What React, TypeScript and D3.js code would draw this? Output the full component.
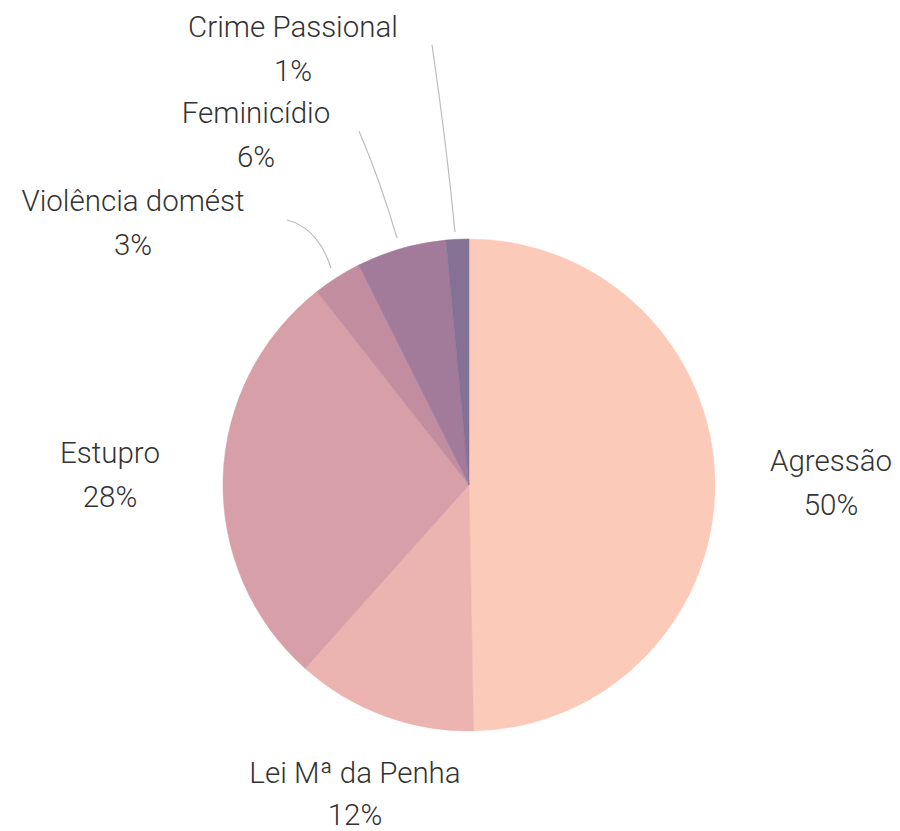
import React from "react";
import * as d3 from "d3";

const categories = ["Agressão", "Lei Mª da Penha", "Estupro", "Violência domést", "Feminicídio", "Crime Passional"];
const values = [49.7, 11.9, 27.8, 3.2, 5.9, 1.5];
const percentLabels = ["50%", "12%", "28%", "3%", "6%", "1%"];
const colors = ["#FCCAB8", "#EBB4B1", "#D79FA8", "#C18D9F", "#A37B9A", "#857193"];

const W = 900;
const H = 831;
const cx = 469;
const cy = 485;
const R = 246;

// label layout (annotation positions: text block center x, first baseline y)
const labelLayout: { x: number; y: number; line?: [number, number, number, number, number, number] }[] = [
  { x: 831, y: 471 },
  { x: 355, y: 783 },
  { x: 110, y: 463 },
  { x: 133, y: 211, line: [287, 220, 318, 228, 331, 268] },
  { x: 256, y: 123, line: [359, 131, 380, 180, 397, 238] },
  { x: 293, y: 37, line: [432, 45, 446, 140, 455, 232] },
];

export default function App() {
  const data = categories.map((c, i) => ({ c, v: values[i], p: percentLabels[i], color: colors[i] }));
  const pie = d3.pie<any>().sort(null).value((d) => d.v).startAngle(0).endAngle(2 * Math.PI);
  const arcs = pie(data);
  const arc = d3.arc<any>().innerRadius(0).outerRadius(R);
  const font = "Roboto, 'Open Sans', sans-serif";
  return (
    <svg width={W} height={H} style={{ position: "absolute", left: 0, top: 0, background: "#fff" }}>
      <g transform={`translate(${cx},${cy})`}>
        {arcs.map((a, i) => (
          <path key={i} d={arc(a) as string} fill={a.data.color} stroke={a.data.color} strokeWidth={0.5} />
        ))}
      </g>
      {labelLayout.map((l, i) =>
        l.line ? (
          <path
            key={"l" + i}
            d={`M${l.line[0]},${l.line[1]} Q${l.line[2]},${l.line[3]} ${l.line[4]},${l.line[5]}`}
            fill="none"
            stroke="#bdbdbd"
            strokeWidth={1.2}
          />
        ) : null
      )}
      {labelLayout.map((l, i) => (
        <text key={"t" + i} x={l.x} y={l.y} textAnchor="middle" fontFamily={font} fontWeight={300} fontSize={29.5} fill="#333">
          <tspan x={l.x}>{data[i].c}</tspan>
          <tspan x={l.x} dy={i === 1 ? 42 : 44}>{data[i].p}</tspan>
        </text>
      ))}
    </svg>
  );
}
